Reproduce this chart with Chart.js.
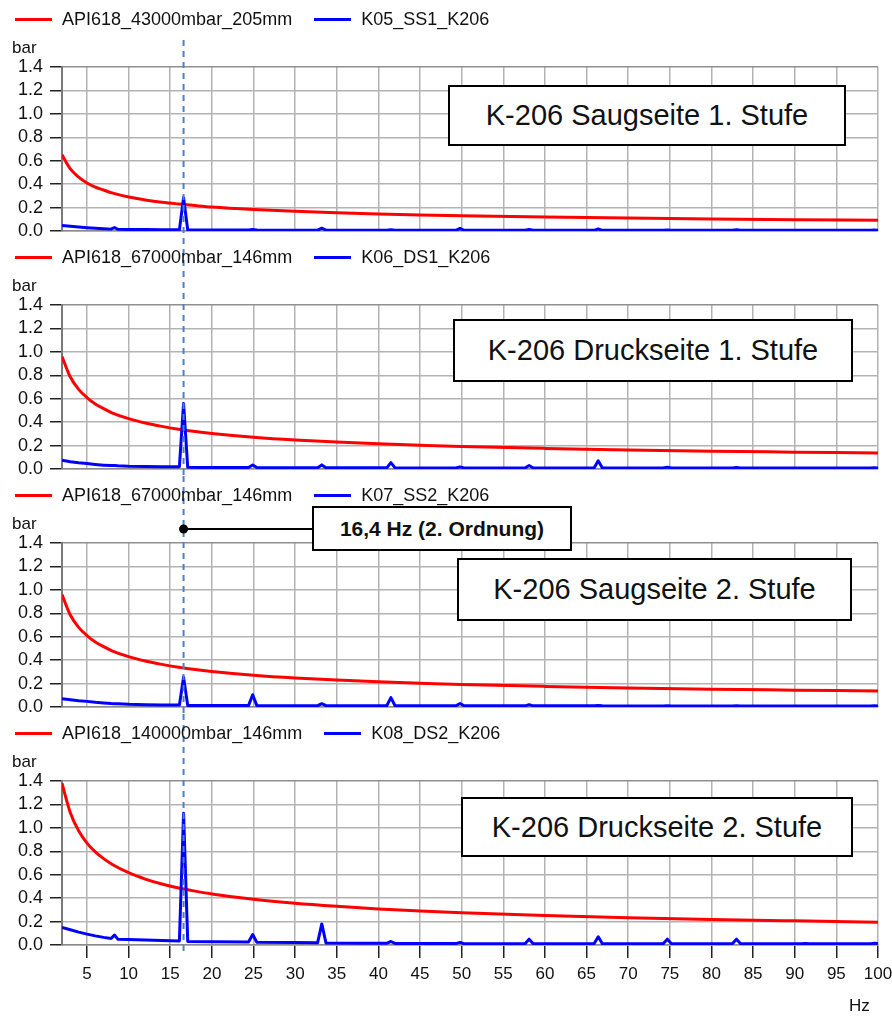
<!DOCTYPE html>
<html>
<head>
<meta charset="utf-8">
<script src="https://cdn.jsdelivr.net/npm/chart.js@4.4.0/dist/chart.umd.min.js"></script>
<style>
html,body{margin:0;padding:0;background:#fff;}
body{width:892px;height:1017px;position:relative;overflow:hidden;font-family:Arial,"Liberation Sans",sans-serif;color:#111;}
.panel{position:absolute;left:0;width:892px;}
.panel canvas{position:absolute;left:0;top:0;}
.legend{position:absolute;left:15px;top:7px;height:24px;display:flex;align-items:center;font-size:18px;white-space:nowrap;z-index:3;}
.item{display:flex;align-items:center;margin-right:22px;}
.swatch{display:inline-block;width:37px;height:3px;margin-right:10px;}
.unit{position:absolute;left:12px;top:38px;font-size:17px;z-index:3;}
.title{position:absolute;border:2px solid #000;background:#fff;display:flex;align-items:center;justify-content:center;font-size:29px;box-sizing:border-box;z-index:4;white-space:nowrap;}
.note{position:absolute;border:2px solid #000;background:#fff;display:flex;align-items:center;justify-content:center;font-size:21px;font-weight:bold;box-sizing:border-box;z-index:5;white-space:nowrap;}
.hz{position:absolute;left:849px;top:996px;font-size:17px;z-index:3;}
</style>
</head>
<body>
<script>
// ---------- DATA ----------
const xTickValues = [5,10,15,20,25,30,35,40,45,50,55,60,65,70,75,80,85,90,95,100];
const yTickValues = [0,0.2,0.4,0.6,0.8,1.0,1.2,1.4];
const markerFreq = 16.6;
const markerLabel = "16,4 Hz (2. Ordnung)";

const redFreq = [2,3,4,5,6,7,8,10,12,14,16,18,20,25,30,35,40,45,50,60,70,80,90,100];
const api43000_205 = [0.65,0.53,0.46,0.41,0.375,0.35,0.325,0.29,0.265,0.245,0.23,0.217,0.205,0.184,0.168,0.155,0.145,0.137,0.13,0.119,0.11,0.103,0.097,0.092];
const api67000_146 = [0.96,0.785,0.68,0.61,0.555,0.515,0.48,0.43,0.393,0.364,0.34,0.32,0.304,0.272,0.248,0.23,0.215,0.203,0.192,0.176,0.163,0.152,0.144,0.136];
const api140000_146 = [1.38,1.13,0.975,0.87,0.795,0.737,0.69,0.617,0.563,0.521,0.487,0.46,0.436,0.39,0.356,0.33,0.308,0.291,0.276,0.252,0.233,0.218,0.206,0.195];

const blueFreq = [2,3,4,5,6,7,7.9,8.3,8.7,10,12,14,16.1,16.6,17.1,20,24.4,24.9,25.4,30,32.7,33.2,33.7,38,41,41.5,42,46,49.3,49.8,50.3,55,57.6,58.1,58.6,62,65.9,66.4,66.9,70,74.2,74.7,75.2,79,82.5,83,83.5,88,90.8,91.3,91.8,96,99.1,99.6,100];
const k05_SS1 = [0.047,0.04,0.034,0.028,0.023,0.019,0.016,0.03,0.014,0.013,0.012,0.011,0.01,0.285,0.008,0.008,0.008,0.012,0.008,0.007,0.007,0.024,0.007,0.007,0.007,0.011,0.007,0.006,0.006,0.022,0.006,0.006,0.006,0.012,0.006,0.006,0.006,0.018,0.006,0.006,0.006,0.008,0.006,0.006,0.006,0.01,0.006,0.006,0.006,0.006,0.006,0.006,0.006,0.008,0.006];
const k06_DS1 = [0.074,0.062,0.053,0.046,0.039,0.033,0.029,0.03,0.027,0.023,0.021,0.02,0.02,0.56,0.014,0.012,0.012,0.035,0.012,0.011,0.011,0.035,0.011,0.01,0.01,0.055,0.01,0.009,0.009,0.018,0.009,0.009,0.009,0.03,0.009,0.009,0.009,0.07,0.009,0.008,0.008,0.016,0.008,0.008,0.008,0.012,0.008,0.008,0.008,0.009,0.008,0.008,0.008,0.01,0.008];
const k07_SS2 = [0.071,0.062,0.054,0.048,0.04,0.034,0.029,0.028,0.027,0.023,0.02,0.018,0.017,0.255,0.013,0.012,0.012,0.105,0.012,0.011,0.011,0.028,0.011,0.011,0.011,0.08,0.011,0.01,0.01,0.03,0.01,0.01,0.01,0.02,0.01,0.01,0.01,0.012,0.01,0.009,0.009,0.01,0.009,0.009,0.009,0.01,0.009,0.009,0.009,0.009,0.009,0.009,0.009,0.01,0.009];
const k08_DS2 = [0.15,0.13,0.11,0.093,0.078,0.065,0.055,0.085,0.05,0.048,0.043,0.038,0.035,1.125,0.03,0.028,0.026,0.09,0.024,0.021,0.02,0.18,0.018,0.016,0.014,0.03,0.013,0.012,0.012,0.022,0.011,0.01,0.01,0.05,0.01,0.01,0.01,0.07,0.01,0.01,0.01,0.05,0.01,0.01,0.01,0.05,0.01,0.01,0.01,0.012,0.01,0.01,0.01,0.015,0.012];

const panelTitles = ["K-206 Saugseite 1. Stufe","K-206 Druckseite 1. Stufe","K-206 Saugseite 2. Stufe","K-206 Druckseite 2. Stufe"];
const redLabels = ["API618_43000mbar_205mm","API618_67000mbar_146mm","API618_67000mbar_146mm","API618_140000mbar_146mm"];
const blueLabels = ["K05_SS1_K206","K06_DS1_K206","K07_SS2_K206","K08_DS2_K206"];
const redSeries = [api43000_205, api67000_146, api67000_146, api140000_146];
const blueSeries = [k05_SS1, k06_DS1, k07_SS2, k08_DS2];

// ---------- LAYOUT ----------
const FONT = 'Arial, "Liberation Sans", sans-serif';
const panelTops = [0,238,476,714];
const panelHeights = [238,238,238,303];
const titleBoxes = [[448,85,398,61],[453,319,400,63],[457,558,395,63],[461,797,392,60]];
const RED = '#ff0000', BLUE = '#0000ff';

const overlay = {
  id:'overlay',
  afterDatasetsDraw(chart, args, opts){
    const ctx = chart.ctx;
    const x = chart.scales.x.getPixelForValue(markerFreq);
    ctx.save();
    ctx.strokeStyle = '#4a82c6';
    ctx.lineWidth = 2;
    ctx.setLineDash([6,5]);
    ctx.beginPath();
    ctx.moveTo(x, opts.y0);
    ctx.lineTo(x, opts.y1);
    ctx.stroke();
    ctx.setLineDash([]);
    if (opts.marker) {
      ctx.strokeStyle = '#000';
      ctx.lineWidth = 2;
      ctx.beginPath();
      ctx.moveTo(x, opts.marker.y);
      ctx.lineTo(opts.marker.x2, opts.marker.y);
      ctx.stroke();
      ctx.fillStyle = '#000';
      ctx.beginPath();
      ctx.arc(x, opts.marker.y, 4.5, 0, Math.PI*2);
      ctx.fill();
    }
    ctx.restore();
  }
};

function makePanel(i){
  const isLast = i === 3;
  const div = document.createElement('div');
  div.className = 'panel';
  div.style.top = panelTops[i] + 'px';
  div.style.height = panelHeights[i] + 'px';
  const cv = document.createElement('canvas');
  cv.width = 892; cv.height = panelHeights[i];
  cv.style.width = '892px'; cv.style.height = panelHeights[i] + 'px';
  div.appendChild(cv);

  const lg = document.createElement('div');
  lg.className = 'legend';
  lg.innerHTML = '<span class="item"><span class="swatch" style="background:'+RED+'"></span>'+redLabels[i]+'</span>'+
                 '<span class="item"><span class="swatch" style="background:'+BLUE+'"></span>'+blueLabels[i]+'</span>';
  div.appendChild(lg);
  const un = document.createElement('div');
  un.className = 'unit'; un.textContent = 'bar';
  div.appendChild(un);
  document.body.appendChild(div);

  const tb = titleBoxes[i];
  const t = document.createElement('div');
  t.className = 'title';
  t.style.left = tb[0]+'px'; t.style.top = tb[1]+'px'; t.style.width = tb[2]+'px'; t.style.height = tb[3]+'px';
  t.textContent = panelTitles[i];
  document.body.appendChild(t);

  const gridColor = '#b3b3b3';
  new Chart(cv, {
    type:'line',
    data:{
      datasets:[
        {label:blueLabels[i], data: blueFreq.map((x,k)=>({x, y: blueSeries[i][k]})), borderColor:BLUE, backgroundColor:BLUE, borderWidth:3, tension:0, pointRadius:0, order:0, borderJoinStyle:'round'},
        {label:redLabels[i], data: redFreq.map((x,k)=>({x, y: redSeries[i][k]})), borderColor:RED, backgroundColor:RED, borderWidth:3, cubicInterpolationMode:'monotone', pointRadius:0, order:1}
      ]
    },
    options:{
      responsive:false, animation:false, devicePixelRatio:1,
      layout:{padding:{top:67, right:14, left:0, bottom: isLast ? 22 : 7}},
      plugins:{
        legend:{display:false}, tooltip:{enabled:false},
        overlay:{
          y0: i === 0 ? 40 : 0,
          y1: isLast ? 241 : panelHeights[i],
          marker: i === 2 ? {y:53, x2:314} : null
        }
      },
      scales:{
        x:{
          type:'linear', min:2, max:100,
          afterBuildTicks: s => { s.ticks = xTickValues.map(v => ({value:v})); },
          afterFit: s => { s.height = isLast ? 50 : 0; s.paddingLeft = 0; s.paddingRight = 0; },
          grid:{color:gridColor, lineWidth:1.5, drawTicks:isLast, tickLength:13, tickColor:'#222', tickWidth:1.5},
          border:{display:true, color:'#8a8a8a', width:1.5},
          ticks:{display:isLast, padding:6, color:'#111', font:{size:17, family:FONT}, maxRotation:0, autoSkip:false, callback: v => String(v)}
        },
        y:{
          min:0, max:1.4,
          afterBuildTicks: s => { s.ticks = yTickValues.map(v => ({value:v})); },
          afterFit: s => { s.width = 62; s.paddingTop = 0; s.paddingBottom = 0; },
          grid:{color: c => (c.tick && c.tick.value === 1.4) ? '#8f8f8f' : gridColor, lineWidth:1.5, tickLength:12, tickColor:'#222', tickWidth:1.5},
          border:{display:true, color:'#7a7a7a', width:2},
          ticks:{padding:7, color:'#111', autoSkip:false, font:{size:18, family:FONT}, callback: v => Number(v).toFixed(1)}
        }
      }
    },
    plugins:[overlay]
  });
}

for (let i = 0; i < 4; i++) makePanel(i);

const note = document.createElement('div');
note.className = 'note';
note.style.left = '312px'; note.style.top = '506px'; note.style.width = '260px'; note.style.height = '45px';
note.textContent = markerLabel;
document.body.appendChild(note);

const hz = document.createElement('div');
hz.className = 'hz'; hz.textContent = 'Hz';
document.body.appendChild(hz);
</script>
</body>
</html>
